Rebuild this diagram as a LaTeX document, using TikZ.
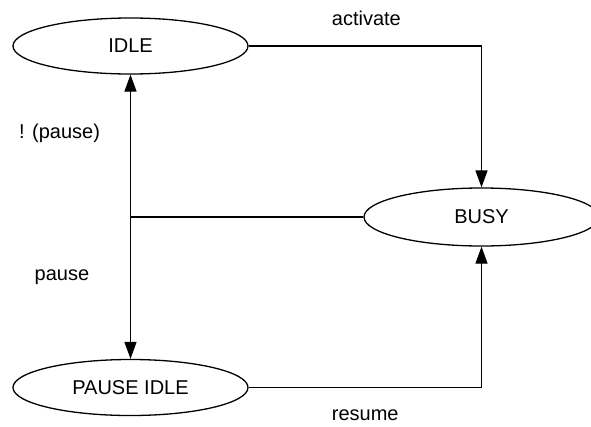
\documentclass[tikz,border=0pt]{standalone}
\usepackage{fontspec}
\setmainfont{Liberation Sans}
\usetikzlibrary{shapes.geometric,arrows.meta}
\begin{document}
\begin{tikzpicture}[x=1pt,y=-1pt,
  every node/.style={font=\fontsize{20}{24}\selectfont},
  state/.style={ellipse,draw,line width=1.3pt,inner sep=0pt,minimum width=235pt,minimum height=56pt},
  link/.style={line width=1.3pt},
  arr/.style={link,-{Triangle[length=17pt,width=12pt]}},
  lbl/.style={anchor=base west,inner sep=0pt}]
\useasboundingbox (0,0) rectangle (591,426);

% states
\node[state] (idle) at (130.5,46) {IDLE};
\node[state] (pidle) at (130.5,387.5) {PAUSE IDLE};
\node[state,minimum height=58pt] (busy) at (481.5,217) {BUSY};

% transitions
\draw[arr] (idle.east) -| (busy.north);
\draw[arr] (pidle.east) -| (busy.south);
\coordinate (j) at (idle.south |- busy.west);
\draw[link] (busy.west) -- (j);
\draw[arr] (j) -- (idle.south);
\draw[arr] (j) -- (pidle.north);

% transition labels
\node[lbl] (lact) at (331.7,25) {activate};
\node[lbl] (lnp) at (19,138.5) {! (pause)};
\node[lbl] (lp) at (34.5,280) {pause};
\node[lbl] (lres) at (331.7,420.5) {resume};
\end{tikzpicture}
\end{document}
